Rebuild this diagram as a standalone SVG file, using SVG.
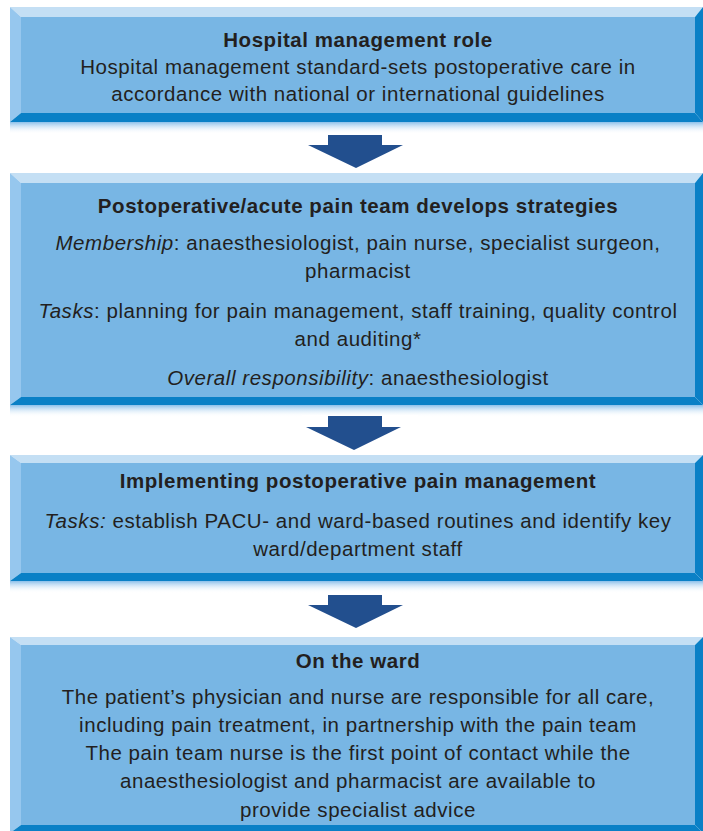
<svg xmlns="http://www.w3.org/2000/svg" width="703" height="831" viewBox="0 0 703 831">
<style>
.face{fill:#78b6e4}
.top{fill:#c4dff4}
.left{fill:#96c7ee}
.dark{fill:#0a80c6}
.sh{fill:url(#shg)}
.t{font-family:"Liberation Sans",Arial,sans-serif;font-size:20.5px;letter-spacing:0.55px;fill:#231f20;text-anchor:middle}
.b{font-weight:bold}
.i{font-style:italic}
.arrow{fill:#234f8e}
</style>
<defs>
<linearGradient id="shg" x1="0" y1="0" x2="0" y2="1">
<stop offset="0" stop-color="#8cc0ea"/>
<stop offset="1" stop-color="#ffffff" stop-opacity="0"/>
</linearGradient>
<filter id="soft" x="-10%" y="-10%" width="120%" height="130%">
<feGaussianBlur stdDeviation="0.7"/>
</filter>
</defs>
<rect width="703" height="831" fill="#ffffff"/>

<g id="box1">
<rect class="sh" x="10" y="122" width="693" height="12"/>
<polygon class="top" points="10,7 703,7 695,17 21,17"/>
<polygon class="left" points="10,7 21,17 21,113 10,122"/>
<polygon class="dark" points="703,7 703,122 695,113 695,17"/>
<polygon class="dark" points="10,122 21,113 695,113 703,122"/>
<rect class="face" x="21" y="17" width="674" height="96"/>
<text class="t b" x="358" y="47">Hospital management role</text>
<text class="t" x="358" y="74">Hospital management standard-sets postoperative care in</text>
<text class="t" x="358" y="101">accordance with national or international guidelines</text>
</g>

<g id="box2">
<rect class="sh" x="10" y="405" width="693" height="12"/>
<polygon class="top" points="10,173 703,173 695,183 21,183"/>
<polygon class="left" points="10,173 21,183 21,397 10,405"/>
<polygon class="dark" points="703,173 703,405 695,397 695,183"/>
<polygon class="dark" points="10,405 21,397 695,397 703,405"/>
<rect class="face" x="21" y="183" width="674" height="214"/>
<text class="t b" x="358" y="213">Postoperative/acute pain team develops strategies</text>
<text class="t" x="358" y="250"><tspan class="i">Membership</tspan>: anaesthesiologist, pain nurse, specialist surgeon,</text>
<text class="t" x="358" y="278">pharmacist</text>
<text class="t" x="358" y="318"><tspan class="i">Tasks</tspan>: planning for pain management, staff training, quality control</text>
<text class="t" x="358" y="346">and auditing*</text>
<text class="t" x="358" y="385"><tspan class="i">Overall responsibility</tspan>: anaesthesiologist</text>
</g>

<g id="box3">
<rect class="sh" x="10" y="581" width="693" height="12"/>
<polygon class="top" points="10,455 703,455 695,463 21,463"/>
<polygon class="left" points="10,455 21,463 21,573 10,581"/>
<polygon class="dark" points="703,455 703,581 695,573 695,463"/>
<polygon class="dark" points="10,581 21,573 695,573 703,581"/>
<rect class="face" x="21" y="463" width="674" height="110"/>
<text class="t b" x="358" y="488">Implementing postoperative pain management</text>
<text class="t" x="358" y="528"><tspan class="i">Tasks:</tspan> establish PACU- and ward-based routines and identify key</text>
<text class="t" x="358" y="556">ward/department staff</text>
</g>

<g id="box4">
<polygon class="top" points="10,637 703,637 695,645 21,645"/>
<polygon class="left" points="10,637 21,645 21,825 10,833"/>
<polygon class="dark" points="703,637 703,833 695,825 695,645"/>
<polygon class="dark" points="10,833 21,825 695,825 703,833"/>
<rect class="face" x="21" y="645" width="674" height="180"/>
<text class="t b" x="358" y="668">On the ward</text>
<text class="t" x="358" y="704">The patient’s physician and nurse are responsible for all care,</text>
<text class="t" x="358" y="732">including pain treatment, in partnership with the pain team</text>
<text class="t" x="358" y="760">The pain team nurse is the first point of contact while the</text>
<text class="t" x="358" y="788">anaesthesiologist and pharmacist are available to</text>
<text class="t" x="358" y="817">provide specialist advice</text>
</g>

<g id="connectors">
<rect x="302" y="133" width="116" height="40" fill="#ffffff"/>
<polygon class="arrow" filter="url(#soft)" points="328,135 382,135 382,145 403,145 356,168 308,145 328,145"/>
<rect x="302" y="415" width="116" height="40" fill="#ffffff"/>
<polygon class="arrow" filter="url(#soft)" points="328,416 382,416 382,427 401,427 354,450 306,427 328,427"/>
<rect x="302" y="593" width="116" height="43" fill="#ffffff"/>
<polygon class="arrow" filter="url(#soft)" points="328,595 382,595 382,605 403,605 356,628 308,605 328,605"/>
</g>
</svg>
